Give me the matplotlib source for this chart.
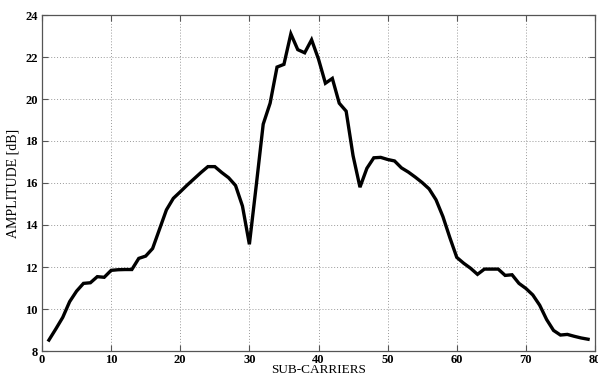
import numpy as np
import matplotlib
matplotlib.use("Agg")
import matplotlib.pyplot as plt

# Measured amplitude per sub-carrier index
subcarriers = list(range(1, 80))
amplitude_db = [
    8.52, 9.05, 9.6, 10.35, 10.85, 11.22, 11.25, 11.54, 11.51, 11.84,
    11.87, 11.88, 11.88, 12.41, 12.52, 12.88, 13.8, 14.72, 15.27, 15.58,
    15.9, 16.2, 16.5, 16.78, 16.78, 16.5, 16.25, 15.88, 14.9, 13.08,
    15.9, 18.8, 19.8, 21.52, 21.65, 23.1, 22.35, 22.2, 22.82, 21.9,
    20.75, 20.98, 19.8, 19.42, 17.3, 15.8, 16.7, 17.2, 17.22, 17.12,
    17.05, 16.72, 16.52, 16.28, 16.02, 15.72, 15.2, 14.4, 13.4, 12.46,
    12.18, 11.94, 11.65, 11.9, 11.9, 11.9, 11.6, 11.63, 11.22, 10.98,
    10.67, 10.18, 9.5, 8.98, 8.76, 8.79, 8.7, 8.62, 8.56,
]
x_ticks = [0, 10, 20, 30, 40, 50, 60, 70, 80]
y_ticks = [8, 10, 12, 14, 16, 18, 20, 22, 24]

plt.rcParams["font.family"] = ["Liberation Serif", "DejaVu Serif"]

fig = plt.figure(figsize=(5.98, 3.76), dpi=100)
ax = fig.add_axes([42 / 598, 1 - 351 / 376, 553 / 598, 336 / 376])

ax.plot(subcarriers, amplitude_db, color="black", linewidth=2.4,
        solid_joinstyle="miter")

ax.set_xlim(0, 80)
ax.set_ylim(8, 24)
ax.set_xticks(x_ticks)
ax.set_yticks(y_ticks)
ax.tick_params(direction="in", top=True, right=True, length=4,
               width=0.8, color="#555555", labelsize=9, pad=3)
ax.tick_params(axis="x", pad=2)
for lbl in ax.get_xticklabels() + ax.get_yticklabels():
    lbl.set_fontweight("bold")
ax.grid(True, linestyle=(0, (1, 2)), color="#999999", linewidth=0.7)
for sp in ax.spines.values():
    sp.set_color("#555555")
    sp.set_linewidth(0.9)

ax.set_xlabel("SUB-CARRIERS", fontsize=9.5, labelpad=-1)
ax.set_ylabel("AMPLITUDE [dB]", fontsize=10, labelpad=4)

fig.savefig("out.png", dpi=100)
